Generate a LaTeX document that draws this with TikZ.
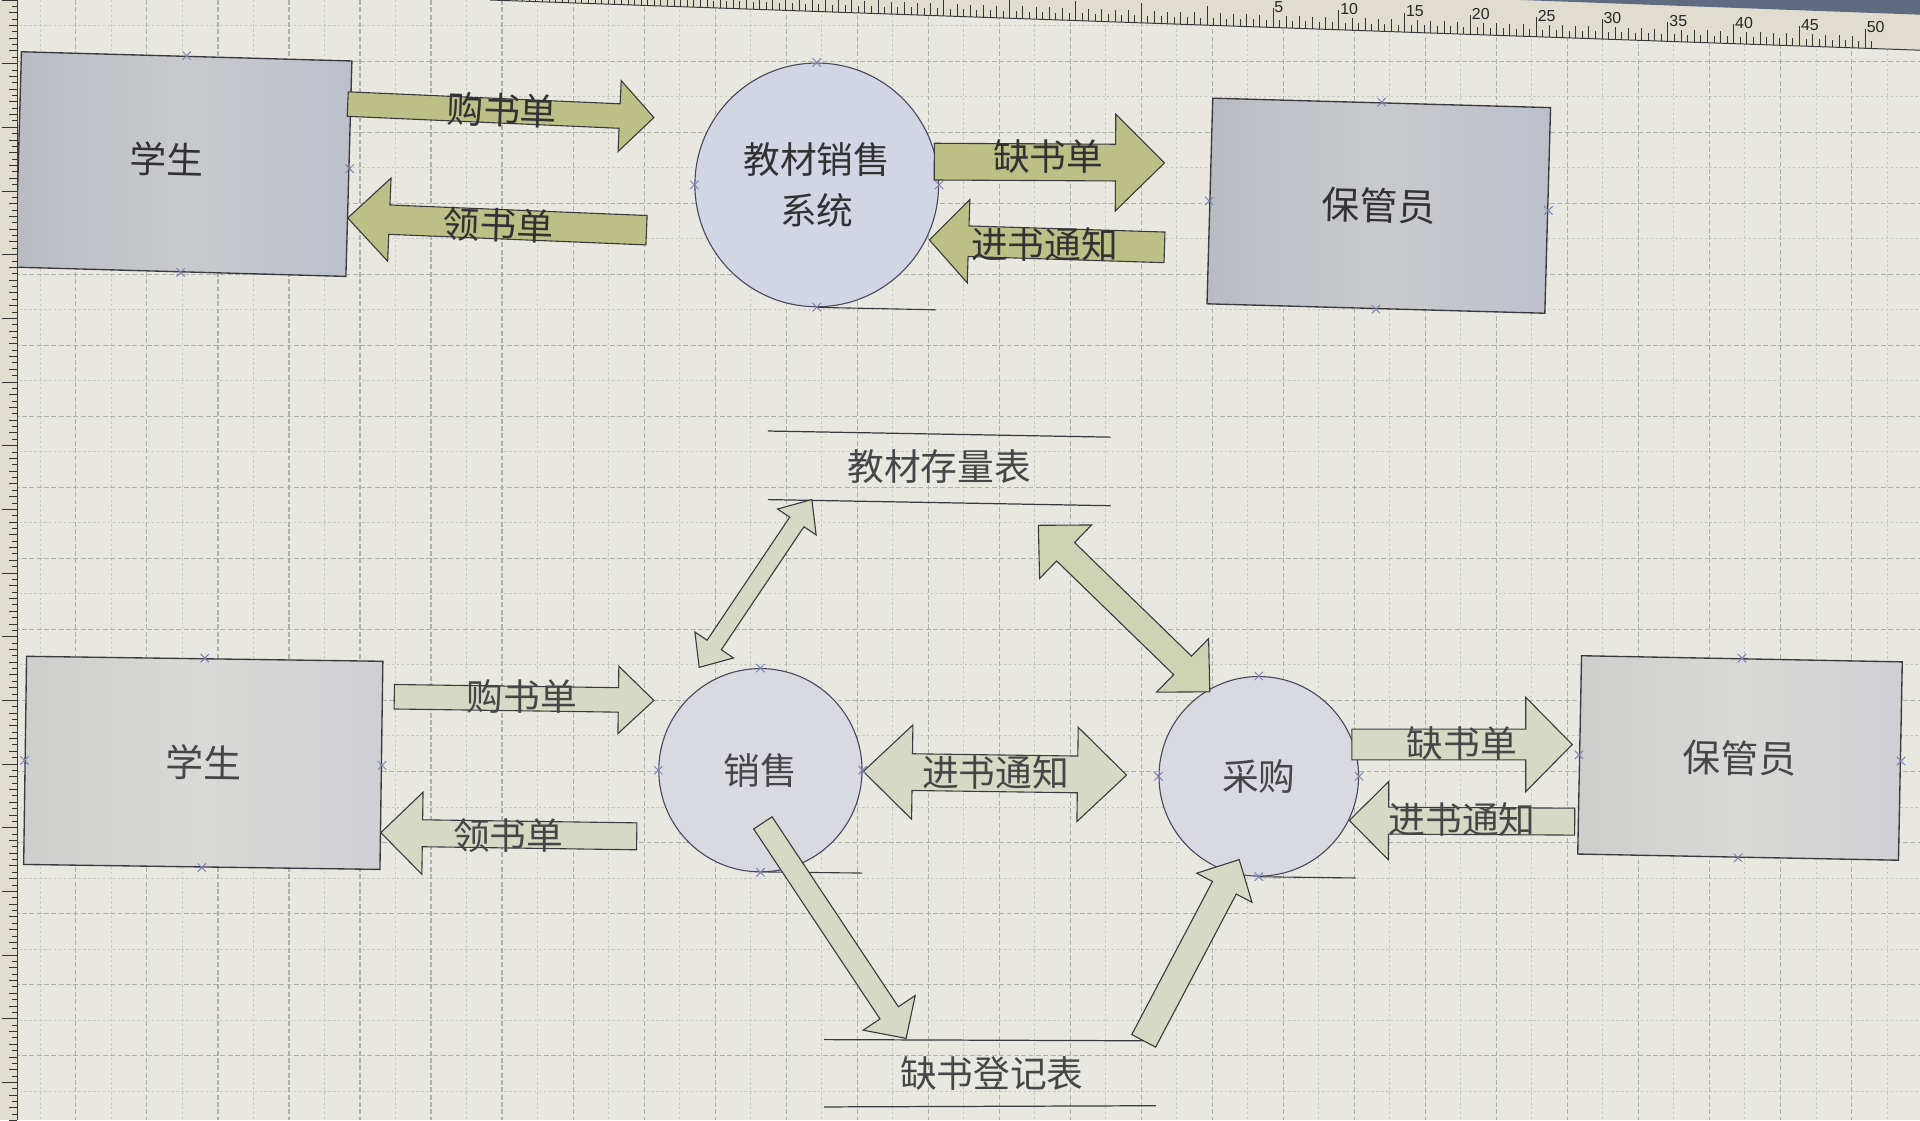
\documentclass[tikz,border=0pt]{standalone}
\usepackage{fontspec}
\setmainfont{Liberation Sans}
\newfontfamily\cjk{Noto Sans CJK SC}
\usetikzlibrary{calc,shapes.misc}
\definecolor{bg}{RGB}{232,232,224}
\definecolor{gridmaj}{RGB}{176,176,170}
\definecolor{gridmin}{RGB}{200,200,194}
\definecolor{boxTa}{RGB}{184,188,194}
\definecolor{boxTb}{RGB}{188,192,202}
\definecolor{boxTc}{RGB}{200,202,205}
\definecolor{boxBa}{RGB}{206,207,205}
\definecolor{boxBb}{RGB}{207,208,211}
\definecolor{boxBc}{RGB}{217,217,214}
\definecolor{circT}{RGB}{210,213,227}
\definecolor{circB}{RGB}{217,218,225}
\definecolor{olive}{RGB}{188,192,134}
\definecolor{pale}{RGB}{214,217,196}
\definecolor{paleg}{RGB}{206,211,180}
\definecolor{ink}{RGB}{50,50,52}
\definecolor{inkb}{RGB}{70,70,72}
\definecolor{edge}{RGB}{58,58,62}
\definecolor{cedge}{RGB}{70,72,92}
\definecolor{mk}{RGB}{120,130,178}
\definecolor{rulerbg}{RGB}{224,220,206}
\definecolor{bezel}{RGB}{96,106,128}
\newcommand{\onearrow}[7]{% name, tail, tip, shaft half, head half, head length, style
  \coordinate (#1-c) at ($(#3)!#6!(#2)$);
  \draw[#7] ($(#2)!#4!90:(#3)$) -- ($(#1-c)!#4!90:(#3)$) -- ($(#1-c)!#5!90:(#3)$) -- (#3)
    -- ($(#1-c)!#5!-90:(#3)$) -- ($(#1-c)!#4!-90:(#3)$) -- ($(#2)!#4!-90:(#3)$) -- cycle;
}
\newcommand{\twoarrow}[7]{% name, end1, end2, shaft half, head half, head length, style
  \coordinate (#1-c1) at ($(#2)!#6!(#3)$);
  \coordinate (#1-c2) at ($(#3)!#6!(#2)$);
  \draw[#7] (#2) -- ($(#1-c1)!#5!90:(#3)$) -- ($(#1-c1)!#4!90:(#3)$) -- ($(#1-c2)!#4!-90:(#2)$)
    -- ($(#1-c2)!#5!-90:(#2)$) -- (#3) -- ($(#1-c2)!#5!90:(#2)$) -- ($(#1-c2)!#4!90:(#2)$)
    -- ($(#1-c1)!#4!-90:(#3)$) -- ($(#1-c1)!#5!-90:(#3)$) -- cycle;
}
\begin{document}
\begin{tikzpicture}[x=1pt,y=-1pt,
  gmaj/.style={draw=gridmaj, line width=0.9pt, dash pattern=on 4pt off 2pt},
  gmin/.style={draw=gridmin, line width=0.7pt, dash pattern=on 2pt off 2pt},
  boxbase/.style={draw=edge, line width=1.1pt, rectangle, inner sep=0pt,
    font=\cjk\fontsize{31}{36}\selectfont, text=ink},
  boxtop/.style={boxbase, left color=boxTa, right color=boxTb, middle color=boxTc},
  boxbot/.style={boxbase, left color=boxBa, right color=boxBb, middle color=boxBc, text=inkb},
  proc/.style={circle, draw=cedge, line width=0.9pt, inner sep=0pt, align=center,
    font=\cjk\fontsize{30}{41}\selectfont, text=ink},
  tail/.style={draw=edge, line width=0.9pt},
  arrT/.style={draw=edge, line width=0.9pt, fill=olive, line join=miter},
  arrB/.style={draw=edge, line width=0.9pt, fill=pale, line join=miter},
  arrG/.style={draw=edge, line width=0.9pt, fill=paleg, line join=miter},
  lbl/.style={font=\cjk\fontsize{30}{36}\selectfont, text=ink, inner sep=0pt},
  lblb/.style={lbl, text=inkb},
  store/.style={draw=edge, line width=1pt},
  xmk/.style={cross out, draw=mk, line width=0.8pt, minimum size=6pt, inner sep=0pt},
  rtick/.style={draw=black!80, line width=0.8pt},
  rnum/.style={font=\fontsize{13}{14}\selectfont, text=black!85, inner sep=0pt}
]
\useasboundingbox (0,0) rectangle (1568,915);
\clip (0,0) rectangle (1568,915);
\fill[bg] (0,0) rectangle (1568,915);
% grid
\foreach \gx in {33,91,...,1570} \draw[gmin] (\gx,0) -- (\gx,915);
\foreach \gy in {21,79,...,915} \draw[gmin] (0,\gy) -- (1568,\gy);
\foreach \gx in {4,62,...,1570} \draw[gmaj] (\gx,0) -- (\gx,915);
\foreach \gy in {50,108,...,915} \draw[gmaj] (0,\gy) -- (1568,\gy);

% ---------- top diagram ----------
\node[boxtop, minimum width=270pt, minimum height=176pt, rotate=-1.6] (stu1) at (150,134) {};
\node[lbl, rotate=-1.6] (stu1t) at (136,130) {学生};
\node[boxtop, minimum width=276pt, minimum height=168pt, rotate=-1.6] (kee1) at (1126,168) {保管员};
\coordinate (sysT) at (764,253);
\draw[tail] (667,251) -- (sysT);
\node[proc, fill=circT, minimum size=199pt] (sys) at (667,151) {教材销售\\系统};

\coordinate (a1s) at (284,85);  \coordinate (a1e) at (534,96);
\coordinate (a2s) at (528,188); \coordinate (a2e) at (284,178);
\coordinate (a3s) at (763,132); \coordinate (a3e) at (951,133);
\coordinate (a4s) at (951,202); \coordinate (a4e) at (759,196);
\onearrow{a1}{a1s}{a1e}{10pt}{29pt}{28pt}{arrT}
\onearrow{a2}{a2s}{a2e}{12pt}{34pt}{34pt}{arrT}
\onearrow{a3}{a3s}{a3e}{15pt}{39.5pt}{40pt}{arrT}
\onearrow{a4}{a4s}{a4e}{12.5pt}{34pt}{32pt}{arrT}
\node[lbl, rotate=-2] (l1) at (410,90) {购书单};
\node[lbl, rotate=-2] (l2) at (407,184) {领书单};
\node[lbl] (l3) at (856,128) {缺书单};
\node[lbl] (l4) at (853,200) {进书通知};

% ---------- bottom diagram ----------
\coordinate (st1a) at (627,352); \coordinate (st1b) at (907,357);
\coordinate (st1c) at (627,408); \coordinate (st1d) at (907,413);
\draw[store] (st1a) -- (st1b);
\draw[store] (st1c) -- (st1d);
\node[lblb] (stock) at (767,381) {教材存量表};
\coordinate (st2a) at (673,849); \coordinate (st2b) at (944,850);
\coordinate (st2c) at (673,904); \coordinate (st2d) at (944,903);
\draw[store] (st2a) -- (st2b);
\draw[store] (st2c) -- (st2d);
\node[lblb] (short) at (810,877) {缺书登记表};

\node[boxbot, minimum width=291pt, minimum height=170pt, rotate=-0.8] (stu2) at (166,623) {学生};
\node[boxbot, minimum width=262pt, minimum height=162pt, rotate=-1.1] (kee2) at (1421,619) {保管员};
\coordinate (saleT) at (704,713);
\draw[tail] (620,712) -- (saleT);
\node[proc, fill=circB, minimum size=166pt, text=inkb] (sale) at (621,629) {销售};
\coordinate (buyT) at (1107,717);
\draw[tail] (1027,716) -- (buyT);
\node[proc, fill=circB, minimum size=163pt, text=inkb] (buy) at (1028,634) {采购};

\coordinate (b1s) at (322,569);  \coordinate (b1e) at (534,572);
\coordinate (b2s) at (520,683);  \coordinate (b2e) at (311,680);
\coordinate (b3s) at (705,630);  \coordinate (b3e) at (920,633);
\coordinate (b4s) at (1104,608); \coordinate (b4e) at (1284,608);
\coordinate (b5s) at (1286,671); \coordinate (b5e) at (1102,670);
\coordinate (d1s) at (571,545);  \coordinate (d1e) at (663,408);
\coordinate (d2s) at (848,429);  \coordinate (d2e) at (988,565);
\coordinate (d3s) at (623,672);  \coordinate (d3e) at (740,848);
\coordinate (d4s) at (934,850);  \coordinate (d4e) at (1012,702);
\onearrow{b1}{b1s}{b1e}{10pt}{27.5pt}{29pt}{arrB}
\onearrow{b2}{b2s}{b2e}{11pt}{33.5pt}{34pt}{arrB}
\twoarrow{b3}{b3s}{b3e}{15pt}{38.5pt}{40pt}{arrB}
\onearrow{b4}{b4s}{b4e}{12.5pt}{38.5pt}{38pt}{arrB}
\onearrow{b5}{b5s}{b5e}{11pt}{32pt}{32pt}{arrB}
\twoarrow{d1}{d1s}{d1e}{7pt}{19pt}{22pt}{arrB}
\twoarrow{d2}{d2s}{d2e}{10.5pt}{30.5pt}{31pt}{arrG}
\onearrow{d3}{d3s}{d3e}{9pt}{25.5pt}{25pt}{arrB}
\onearrow{d4}{d4s}{d4e}{11pt}{25.5pt}{26pt}{arrB}
\node[lblb] (m1) at (426,569) {购书单};
\node[lblb] (m2) at (415,682) {领书单};
\node[lblb] (m3) at (813,631) {进书通知};
\node[lblb] (m4) at (1194,607) {缺书单};
\node[lblb] (m5) at (1194,669) {进书通知};

% selection markers
\foreach \a [count=\i] in {stu1.north,stu1.east,stu1.south,
  sys.north,sys.west,sys.east,sys.south,
  kee1.north,kee1.west,kee1.east,kee1.south,
  stu2.north,stu2.west,stu2.east,stu2.south,
  sale.north,sale.west,sale.east,sale.south,
  buy.north,buy.west,buy.east,buy.south,
  kee2.north,kee2.west,kee2.east,kee2.south}
  \node[xmk] (x\i) at (\a) {};

% ---------- rulers ----------
\fill[rulerbg] (0,0) rectangle (14,915);
\draw[edge, line width=0.8pt] (14,0) -- (14,915);
\foreach \i in {0,...,176} {
  \pgfmathsetmacro\ty{\i*5.2}
  \pgfmathsetmacro\tl{ifthenelse(mod(\i,10)==0,12,ifthenelse(mod(\i,2)==0,7,4))}
  \draw[rtick] (14,\ty) -- (14-\tl,\ty);
}
\fill[rulerbg] (400,0) -- (1568,0) -- (1568,41) -- cycle;
\fill[bezel] (1242,0) -- (1568,0) -- (1568,12) -- cycle;
\draw[edge, line width=0.8pt] (400,0) -- (1568,41);
\foreach \i in {0,...,210} {
  \pgfmathsetmacro\tx{400+\i*5.375}
  \pgfmathsetmacro\ty{(\tx-400)/1168*41}
  \pgfmathsetmacro\tl{ifthenelse(mod(\i+1,10)==0,16,ifthenelse(mod(\i+1,2)==0,10,6))}
  \draw[rtick] (\tx,\ty) -- (\tx,\ty-\tl);
}
\foreach \n in {5,10,...,50} {
  \pgfmathsetmacro\tx{400+(109+2*\n)*5.375}
  \pgfmathsetmacro\ty{(\tx-400)/1168*41}
  \node[rnum, anchor=west] (r\n) at (\tx+1,\ty-17) {\n};
}
\end{tikzpicture}
\end{document}
